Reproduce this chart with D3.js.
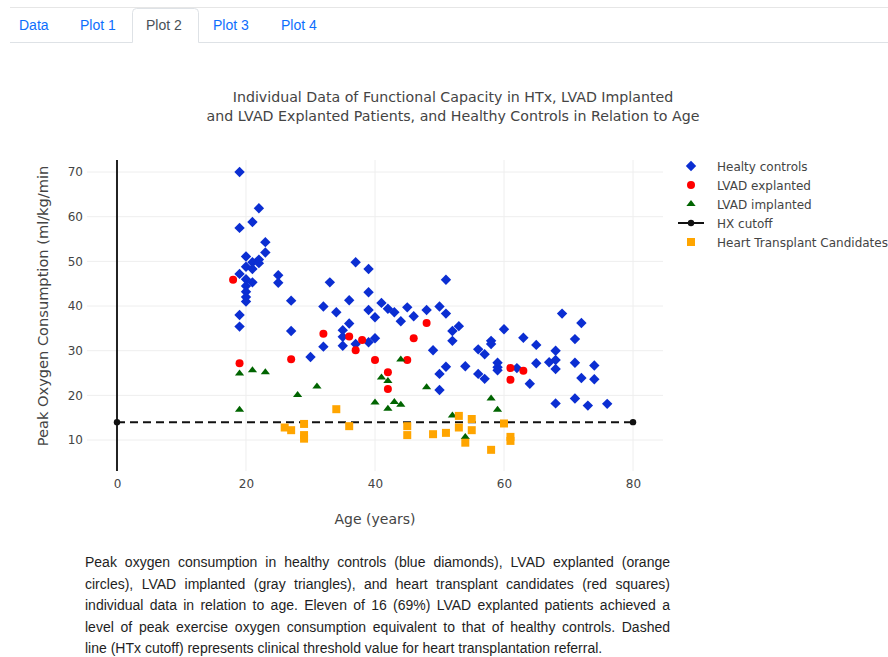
<!DOCTYPE html>
<html>
<head>
<meta charset="utf-8">
<script src="https://cdn.jsdelivr.net/npm/d3@7"></script>
<style>
  html, body { margin: 0; padding: 0; background: #fff; width: 888px; height: 657px; overflow: hidden; }
  #chart { position: absolute; left: 0; top: 0; }
  .cap { position: absolute; left: 85px; width: 585px; font-family: "Liberation Sans", Arial, Helvetica, sans-serif;
         font-size: 14px; color: #1e1e1e; white-space: nowrap; line-height: 17px; }
  .cap.j { text-align: justify; text-align-last: justify; white-space: normal; }
</style>
</head>
<body>
<svg id="chart" width="888" height="657"></svg>
<script>
// ---- navigation tabs ----
const tabNames = ["Data", "Plot 1", "Plot 2", "Plot 3", "Plot 4"];
const activeTab = "Plot 2";

// ---- chart text ----
const titleLines = [
  "Individual Data of Functional Capacity in HTx, LVAD Implanted",
  "and LVAD Explanted Patients, and Healthy Controls in Relation to Age"
];
const xTitle = "Age (years)";
const yTitle = "Peak Oxygen Consumption (ml/kg/min";
const xTicks = [0, 20, 40, 60, 80];
const yTicks = [10, 20, 30, 40, 50, 60, 70];

// ---- series: Healthy controls ----
const healthyAge = [19, 22, 21, 19, 23, 23, 20, 22, 21, 22, 20, 21, 19, 20, 21, 20, 20, 20, 20, 25,
  25, 19, 19, 27, 27, 33, 32, 30, 32, 37, 39, 39, 36, 41, 34, 39, 42, 43, 40, 45,
  46, 44, 48, 50, 51, 51, 36, 35, 35, 35, 37, 39, 40, 49, 51, 50, 50, 53, 52, 52,
  54, 56, 57, 58, 58, 60, 63, 65, 68, 68, 67, 68, 65, 62, 59, 59, 59, 56, 57, 64,
  68, 69, 72, 71, 71, 74, 72, 74, 71, 73, 76];
const healthyVO2 = [70, 61.9, 58.8, 57.5, 54.3, 52, 51.1, 50.4, 49.8, 49.6, 48.8, 48.3, 47.2, 46, 45.3, 44.5, 43.2, 42, 41, 46.9,
  45.2, 38, 35.4, 41.2, 34.4, 45.3, 39.9, 28.6, 30.9, 49.8, 48.3, 43.1, 41.3, 40.7, 38.6, 39.1, 39.4, 38.6, 37.5, 39.7,
  37.7, 36.6, 39.1, 39.9, 38.3, 45.9, 36.1, 34.6, 33.1, 31.1, 31.5, 31.9, 32.8, 30.1, 26.4, 24.8, 21.2, 35.5, 34.4, 32.2,
  26.5, 30.3, 29.2, 32.2, 31.5, 34.8, 32.9, 31.3, 30, 27.9, 27.4, 25.9, 27.2, 26.1, 27.3, 26.3, 25.6, 24.8, 23.7, 22.6,
  18.2, 38.3, 36.2, 32.6, 27.3, 26.7, 23.9, 23.6, 19.3, 17.7, 18.1];

// ---- series: LVAD explanted ----
const explantedAge = [18, 19, 27, 32, 36, 38, 37, 40, 42, 42, 46, 45, 48, 61, 63, 61];
const explantedVO2 = [45.9, 27.2, 28.1, 33.8, 33.2, 32.4, 30.1, 27.9, 25.2, 21.4, 32.8, 27.9, 36.2, 26.1, 25.5, 23.5];

// ---- series: LVAD implanted ----
const implantedAge = [19, 21, 23, 19, 28, 31, 44, 41, 42, 40, 42, 43, 44, 48, 52, 54, 58, 59];
const implantedVO2 = [24.9, 25.6, 25.2, 16.8, 20.1, 22, 28, 24, 23.2, 18.4, 17, 18.5, 17.9, 21.8, 15.5, 10.7, 19.3, 16.8];

// ---- series: HX cutoff ----
const cutoffAge = [0, 80];
const cutoffVO2 = [14, 14];

// ---- series: Heart transplant candidates ----
const candidateAge = [26, 27, 29, 29, 29, 34, 36, 45, 45, 49, 51, 53, 53, 55, 55, 54, 58, 60, 61, 61];
const candidateVO2 = [12.8, 12.2, 13.6, 11.1, 10.3, 16.9, 13.1, 13.1, 11.1, 11.3, 11.6, 15.4, 12.8, 14.7, 12.2, 9.4, 7.8, 13.7, 10.7, 9.8];

// ---- caption ----
const captionLines = [
  "Peak oxygen consumption in healthy controls (blue diamonds), LVAD explanted (orange",
  "circles), LVAD implanted (gray triangles), and heart transplant candidates (red squares)",
  "individual data in relation to age. Eleven of 16 (69%) LVAD explanted patients achieved a",
  "level of peak exercise oxygen consumption equivalent to that of healthy controls. Dashed",
  "line (HTx cutoff) represents clinical threshold value for heart transplantation referral."
];

// marker shapes (size = 8 px)
const R = 4;
const shapes = {
  diamond: () => { const d = R * 1.3; return `M${d},0L0,${d}L${-d},0L0,${-d}Z`; },
  circle: () => `M${R},0A${R},${R} 0 1,1 0,${-R}A${R},${R} 0 0,1 ${R},0Z`,
  triangle: () => { const t = R * 2 / Math.sqrt(3), h = R / 2; return `M${-t},${h}H${t}L0,${-R}Z`; },
  square: () => `M${R},${R}H${-R}V${-R}H${R}Z`
};

const svg = d3.select("#chart");
const FONT = "'DejaVu Sans', Verdana, sans-serif";

// ---- tab bar ----
const tabs = svg.append("g").attr("font-family", "'Liberation Sans', Arial, sans-serif").attr("font-size", 14);
tabs.append("line").attr("x1", 10).attr("x2", 888).attr("y1", 7.5).attr("y2", 7.5).attr("stroke", "#e6e6e6");
const tabX = [19, 80, 146, 213, 281];
const activeIdx = tabNames.indexOf(activeTab);
tabs.append("path")
  .attr("d", "M10,42.5H132.5V12.5Q132.5,8.5 136.5,8.5H194.5Q198.5,8.5 198.5,12.5V42.5H888")
  .attr("fill", "none").attr("stroke", "#dee2e6");
tabs.selectAll("text.tab").data(tabNames).join("text")
  .attr("class", "tab")
  .attr("x", (d, i) => tabX[i]).attr("y", 30)
  .attr("fill", (d, i) => i === activeIdx ? "#495057" : "#0d6efd")
  .text(d => d);

// ---- scales ----
const plot = { left: 87, right: 663, top: 160, bottom: 471 };
const x = d3.scaleLinear().domain([-4.65, 84.65]).range([plot.left, plot.right]);
const y = d3.scaleLinear().domain([3.06, 72.7]).range([plot.bottom, plot.top]);

// ---- gridlines ----
const grid = svg.append("g");
grid.selectAll("line.gx").data(xTicks.filter(t => t !== 0)).join("line")
  .attr("x1", d => x(d)).attr("x2", d => x(d)).attr("y1", plot.top).attr("y2", plot.bottom)
  .attr("stroke", "#eeeeee").attr("stroke-width", 1);
grid.selectAll("line.gy").data(yTicks).join("line")
  .attr("y1", d => y(d)).attr("y2", d => y(d)).attr("x1", plot.left).attr("x2", plot.right)
  .attr("stroke", "#eeeeee").attr("stroke-width", 1);

// zero line of the age axis
svg.append("line")
  .attr("x1", x(0)).attr("x2", x(0)).attr("y1", plot.top).attr("y2", plot.bottom)
  .attr("stroke", "#222").attr("stroke-width", 2);

// ---- axes (labels only) ----
const xAxis = svg.append("g").attr("transform", `translate(0,${plot.bottom})`)
  .call(d3.axisBottom(x).tickValues(xTicks).tickSize(0).tickPadding(8).tickFormat(d3.format("d")));
const yAxis = svg.append("g").attr("transform", `translate(${plot.left},0)`)
  .call(d3.axisLeft(y).tickValues(yTicks).tickSize(0).tickPadding(4).tickFormat(d3.format("d")));
[xAxis, yAxis].forEach(a => {
  a.select(".domain").remove();
  a.selectAll("text").attr("font-family", FONT).attr("font-size", 12).attr("fill", "#444");
});

// axis titles
svg.append("text").attr("x", (plot.left + plot.right) / 2).attr("y", 524)
  .attr("text-anchor", "middle").attr("font-family", FONT).attr("font-size", 14).attr("fill", "#444")
  .text(xTitle);
svg.append("text").attr("transform", `translate(48,306) rotate(-90)`)
  .attr("text-anchor", "middle").attr("font-family", FONT).attr("font-size", 14.6).attr("fill", "#444")
  .text(yTitle);

// chart title
svg.append("g").selectAll("text").data(titleLines).join("text")
  .attr("x", 453).attr("y", (d, i) => 102 + i * 19)
  .attr("text-anchor", "middle").attr("font-family", FONT).attr("font-size", 14.2).attr("fill", "#444")
  .text(d => d);

// ---- traces ----
const zip = (a, b) => a.map((v, i) => [v, b[i]]);
function drawMarkers(ages, vals, shape, color) {
  svg.append("g").selectAll("path").data(zip(ages, vals)).join("path")
    .attr("d", shapes[shape]())
    .attr("transform", d => `translate(${x(d[0])},${y(d[1])})`)
    .attr("fill", color);
}

const BLUE = "#0b2ed2", RED = "#ff0000", GREEN = "#006400", ORANGE = "#ffa500";
drawMarkers(healthyAge, healthyVO2, "diamond", BLUE);
drawMarkers(explantedAge, explantedVO2, "circle", RED);
drawMarkers(implantedAge, implantedVO2, "triangle", GREEN);

// HX cutoff: dashed line with end markers
const cut = zip(cutoffAge, cutoffVO2);
svg.append("path")
  .attr("d", d3.line().x(d => x(d[0])).y(d => y(d[1]))(cut))
  .attr("fill", "none").attr("stroke", "#111").attr("stroke-width", 2).attr("stroke-dasharray", "8,5");
svg.append("g").selectAll("circle").data(cut).join("circle")
  .attr("cx", d => x(d[0])).attr("cy", d => y(d[1])).attr("r", 3.2).attr("fill", "#111");

drawMarkers(candidateAge, candidateVO2, "square", ORANGE);

// ---- legend ----
const legendItems = [
  { name: "Healty controls", shape: "diamond", color: BLUE },
  { name: "LVAD explanted", shape: "circle", color: RED },
  { name: "LVAD implanted", shape: "triangle", color: GREEN },
  { name: "HX cutoff", shape: "line", color: "#111" },
  { name: "Heart Transplant Candidates", shape: "square", color: ORANGE }
];
const legend = svg.append("g");
legendItems.forEach((it, i) => {
  const cy = 166 + i * 19;
  const g = legend.append("g").attr("transform", `translate(691,${cy})`);
  if (it.shape === "line") {
    g.append("line").attr("x1", -13).attr("x2", 13).attr("stroke", it.color).attr("stroke-width", 2)
      .attr("stroke-dasharray", "10,6");
    g.append("circle").attr("r", 3.2).attr("fill", it.color);
  } else {
    g.append("path").attr("d", shapes[it.shape]()).attr("fill", it.color);
  }
  legend.append("text").attr("x", 717).attr("y", cy + 4.5)
    .attr("font-family", FONT).attr("font-size", 12).attr("fill", "#444").text(it.name);
});

// ---- caption ----
captionLines.forEach((line, i) => {
  d3.select("body").append("div")
    .attr("class", i < captionLines.length - 1 ? "cap j" : "cap")
    .style("top", (554 + i * 21.5) + "px")
    .text(line);
});
</script>
</body>
</html>
